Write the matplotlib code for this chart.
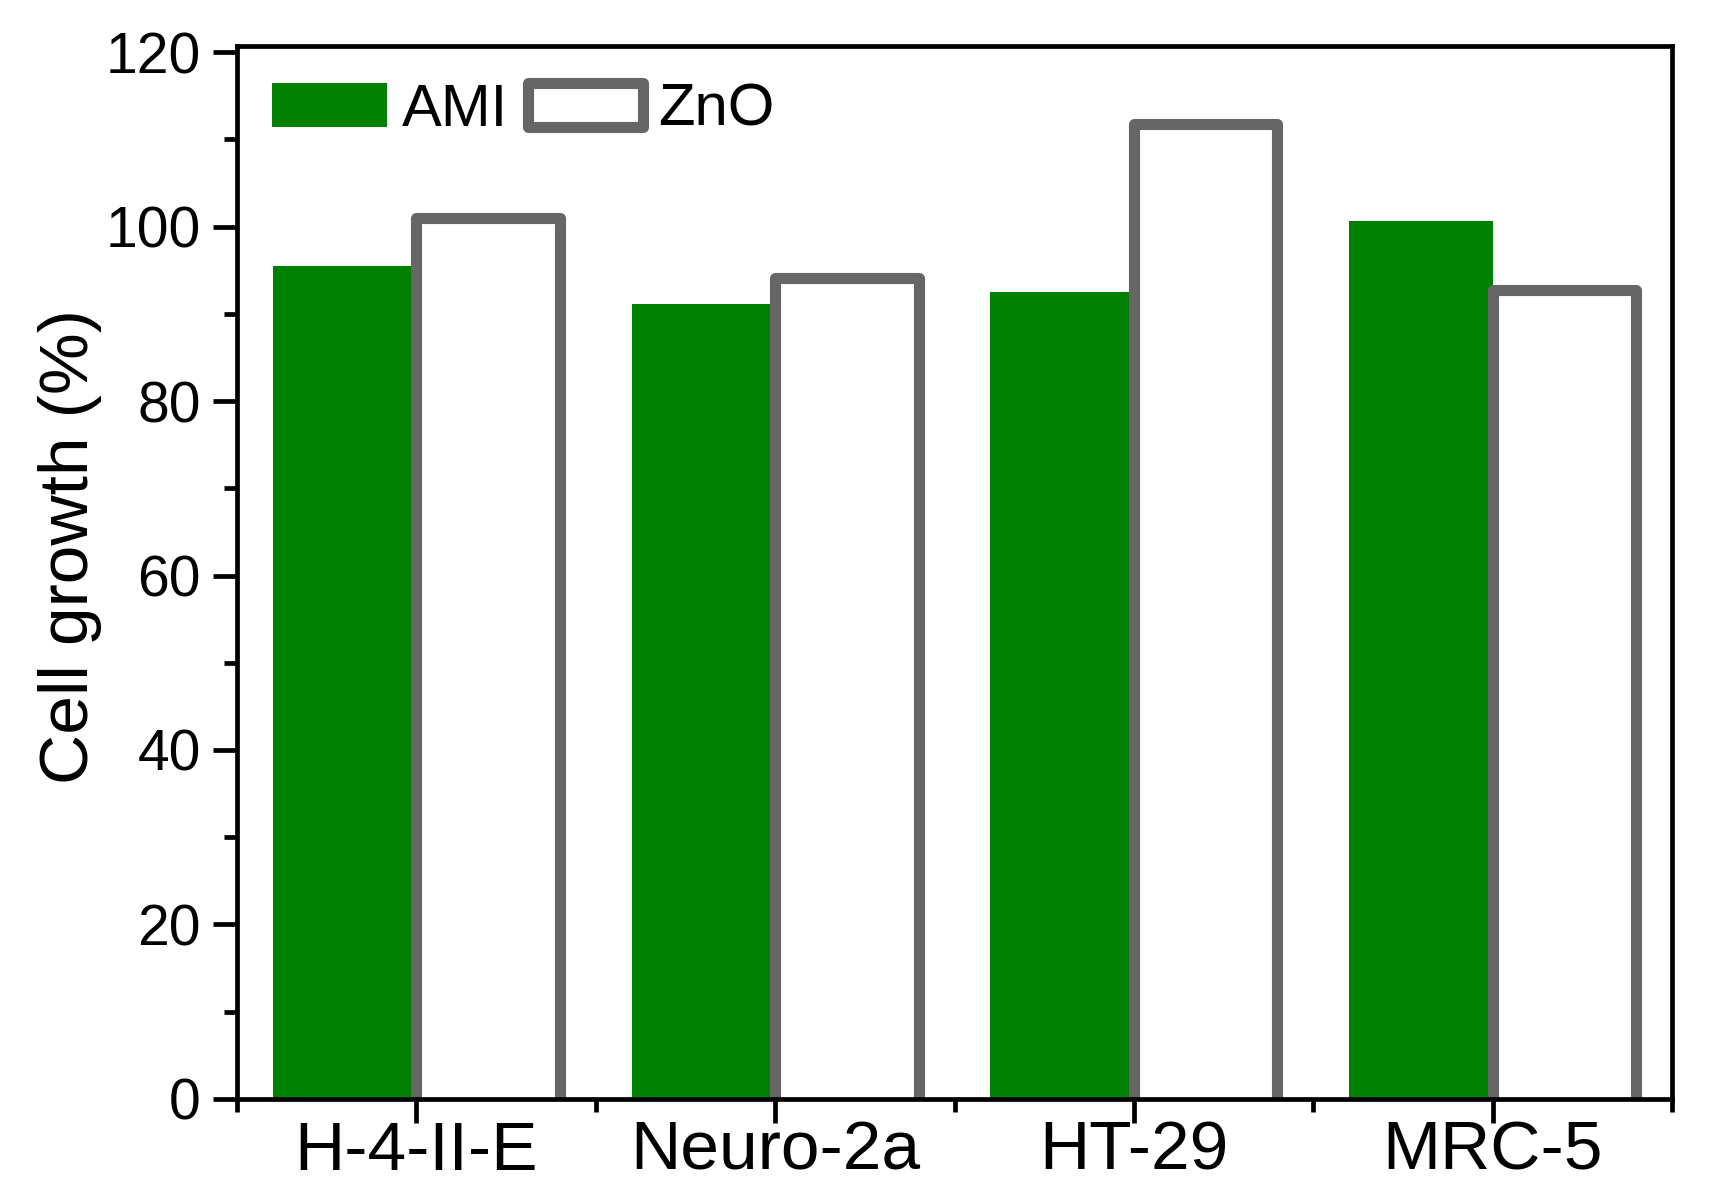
import numpy as np
import matplotlib
matplotlib.use("Agg")
import matplotlib.pyplot as plt
from matplotlib.ticker import MultipleLocator, FixedLocator

plt.rcParams['font.family'] = ['Liberation Sans', 'DejaVu Sans']

# data
cells = ["H-4-II-E", "Neuro-2a", "HT-29", "MRC-5"]
ami = [95.5, 91.1, 92.5, 100.6]
zno = [101.0, 94.1, 111.7, 92.7]

green = "#008000"
grey = "#666666"

fig = plt.figure(figsize=(17.19, 12.03), dpi=100)
ax = fig.add_axes([0.1379, 0.0865, 0.8348, 0.8753])

x = np.arange(len(cells))
w = 0.4
# bars start a little below 0 so the bottom edge of the outline is hidden
base = -2.0
b1 = ax.bar(x - w/2, np.array(ami) - base, w, bottom=base, color=green,
            edgecolor="none", label="AMI", zorder=1)
b2 = ax.bar(x + w/2, np.array(zno) - base, w, bottom=base, facecolor="white",
            edgecolor=grey, linewidth=8, label="ZnO", zorder=1.5)
for p in b2:
    p.set_joinstyle("round")

ax.set_xlim(-0.5, 3.5)
ax.set_ylim(0, 120.7)

ax.set_xticks(x)
ax.set_xticklabels(cells)
ax.xaxis.set_minor_locator(FixedLocator(np.arange(-0.5, 4.0, 1.0)))
ax.yaxis.set_major_locator(MultipleLocator(20))
ax.yaxis.set_minor_locator(MultipleLocator(10))

for s in ax.spines.values():
    s.set_linewidth(3.4)
    s.set_zorder(3)

ax.tick_params(axis="both", which="both", direction="out", top=False, right=False, width=3.4)
ax.tick_params(axis="both", which="major", length=17)
ax.tick_params(axis="both", which="minor", length=9.5)
ax.tick_params(axis="y", which="major", labelsize=41, pad=9)
ax.tick_params(axis="x", which="major", labelsize=50, pad=-2)

ax.set_ylabel("Cell growth (%)", fontsize=50)
ax.yaxis.set_label_coords(-0.094, 0.525)

leg = ax.legend(loc="center left", bbox_to_anchor=(0.0244, 0.939), ncol=2,
                frameon=False, fontsize=43, handlelength=1.93, handleheight=0.77,
                handletextpad=0.25, columnspacing=0.33, borderpad=0, borderaxespad=0)
for h in leg.legend_handles:
    h.set_joinstyle("round")

fig.savefig("out.png", dpi=100)
